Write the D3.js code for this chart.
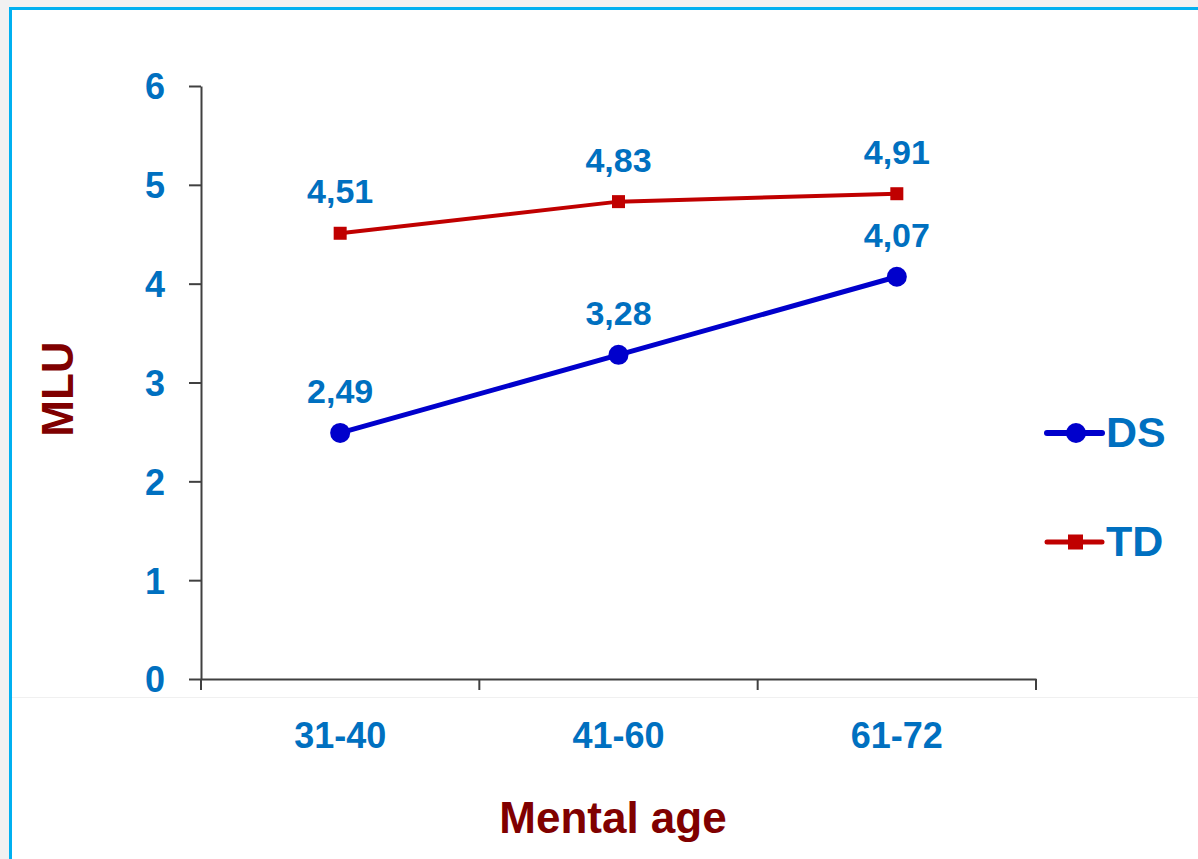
<!DOCTYPE html>
<html>
<head>
<meta charset="utf-8">
<script src="https://cdn.jsdelivr.net/npm/d3@7"></script>
<style>
  html, body { margin: 0; padding: 0; background: #f1f1f1; }
  svg { display: block; }
</style>
</head>
<body>
<svg id="chart" width="1198" height="859"></svg>
<script>
// Mean length of utterance by mental age group
const categories = ["31-40", "41-60", "61-72"];
const dsValues = [2.49, 3.28, 4.07];
const tdValues = [4.51, 4.83, 4.91];
const yTicks = [0, 1, 2, 3, 4, 5, 6];
const seriesNames = ["DS", "TD"];

const svg = d3.select("#chart");
const W = 1198, H = 859;

// panel
svg.append("rect").attr("x", 0).attr("y", 0).attr("width", W).attr("height", H).attr("fill", "#f1f1f1");
svg.append("rect").attr("x", 10.5).attr("y", 8.5).attr("width", W + 20).attr("height", H + 20)
  .attr("fill", "#ffffff").attr("stroke", "#00b0f0").attr("stroke-width", 3);

const plot = { left: 201, right: 1036, top: 86, bottom: 679 };

const x = d3.scaleBand().domain(categories).range([plot.left, plot.right]).padding(0);
const y = d3.scaleLinear().domain([0, 6]).range([plot.bottom, plot.top]);

const blue = "#0070c0";
const darkRed = "#800000";
const font = "Liberation Sans, Arial, sans-serif";

// faint plot-area edge
svg.append("line").attr("x1", 12).attr("x2", W).attr("y1", 697.5).attr("y2", 697.5)
  .attr("stroke", "#f0f0f0").attr("stroke-width", 1);

// y axis
const yAxis = d3.axisLeft(y).tickValues(yTicks).tickFormat(d3.format("d"))
  .tickSize(12).tickSizeOuter(0).tickPadding(24);
const gy = svg.append("g").attr("transform", `translate(${plot.left},0)`).call(yAxis);
gy.select(".domain").attr("stroke", "#404040").attr("stroke-width", 2);
gy.selectAll(".tick line").attr("stroke", "#404040").attr("stroke-width", 2);
gy.selectAll(".tick text").attr("fill", blue).attr("font-family", font)
  .attr("font-weight", "bold").attr("font-size", 36).attr("dy", "0.36em");

// x axis
const xAxis = d3.axisBottom(x).tickSize(0).tickPadding(0);
const gx = svg.append("g").attr("transform", `translate(0,${plot.bottom})`).call(xAxis);
gx.select(".domain").attr("stroke", "#404040").attr("stroke-width", 2);
gx.selectAll(".tick text").attr("fill", blue).attr("font-family", font)
  .attr("font-weight", "bold").attr("font-size", 36).attr("dy", 0).attr("y", 69);

// category boundary ticks
const bounds = categories.map(c => x(c)).concat([x(categories[categories.length - 1]) + x.bandwidth()]);
svg.append("g").selectAll("line").data(bounds).join("line")
  .attr("x1", d => d).attr("x2", d => d)
  .attr("y1", plot.bottom).attr("y2", plot.bottom + 11)
  .attr("stroke", "#404040").attr("stroke-width", 2);

// axis titles
svg.append("text").attr("x", 613).attr("y", 833).attr("text-anchor", "middle")
  .attr("fill", darkRed).attr("font-family", font).attr("font-weight", "bold").attr("font-size", 44)
  .text("Mental age");
svg.append("text").attr("transform", "translate(73,389) rotate(-90)").attr("text-anchor", "middle")
  .attr("fill", darkRed).attr("font-family", font).attr("font-weight", "bold").attr("font-size", 44)
  .text("MLU");

const cx = c => x(c) + x.bandwidth() / 2;
const line = d3.line().x(d => cx(d.c)).y(d => y(d.v));

const series = [
  { name: seriesNames[0], values: dsValues, color: "#0000cc", width: 5, marker: "circle" },
  { name: seriesNames[1], values: tdValues, color: "#c00000", width: 4, marker: "square" }
];

series.forEach(s => {
  const pts = categories.map((c, i) => ({ c, v: s.values[i] }));
  svg.append("path").datum(pts).attr("d", line).attr("fill", "none")
    .attr("stroke", s.color).attr("stroke-width", s.width).attr("stroke-linejoin", "round");
  const g = svg.append("g");
  if (s.marker === "circle") {
    g.selectAll("circle").data(pts).join("circle")
      .attr("cx", d => cx(d.c)).attr("cy", d => y(d.v)).attr("r", 10).attr("fill", s.color);
  } else {
    g.selectAll("rect").data(pts).join("rect")
      .attr("x", d => cx(d.c) - 6.5).attr("y", d => y(d.v) - 6.5)
      .attr("width", 13).attr("height", 13).attr("fill", s.color);
  }
  g.selectAll("text").data(pts).join("text")
    .attr("x", d => cx(d.c)).attr("y", d => y(d.v) - 30)
    .attr("text-anchor", "middle").attr("fill", blue).attr("font-family", font)
    .attr("font-weight", "bold").attr("font-size", 34)
    .text(d => d3.format(".2f")(d.v).replace(".", ","));
});

// legend
const legendY = [433, 542];
series.forEach((s, i) => {
  const g = svg.append("g").attr("transform", `translate(1047,${legendY[i]})`);
  g.append("line").attr("x1", 0).attr("x2", 55).attr("y1", 0).attr("y2", 0)
    .attr("stroke", s.color).attr("stroke-width", s.width + 1).attr("stroke-linecap", "round");
  if (s.marker === "circle") {
    g.append("circle").attr("cx", 29).attr("cy", 0).attr("r", 10).attr("fill", s.color);
  } else {
    g.append("rect").attr("x", 21).attr("y", -7.5).attr("width", 15).attr("height", 15).attr("fill", s.color);
  }
  g.append("text").attr("x", 59).attr("y", 14).attr("fill", blue).attr("font-family", font)
    .attr("font-weight", "bold").attr("font-size", 43).text(s.name);
});
</script>
</body>
</html>
